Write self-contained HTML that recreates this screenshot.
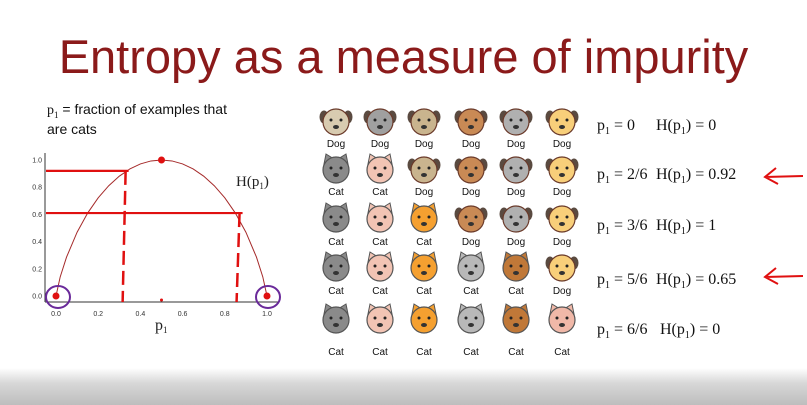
<!DOCTYPE html>
<html><head><meta charset="utf-8">
<style>
body{margin:0;width:807px;height:405px;overflow:hidden;background:#fff;font-family:"Liberation Sans",sans-serif;position:relative}
.t{position:absolute;white-space:nowrap}
</style></head><body>
<div class="t" style="left:0;width:807px;text-align:center;top:29px;font-size:47px;color:#8b1a1a">Entropy as a measure of impurity</div>
<div class="t" style="left:47px;top:100px;font-size:14px;line-height:18px;color:#111"><span style="font-family:'Liberation Serif',serif">p<sub style="font-size:9px;line-height:0">1</sub></span> = fraction of examples that<br>are cats</div>
<svg id="chart" width="807" height="405" style="position:absolute;left:0;top:0"></svg>
<div style="position:absolute;left:0;top:368px;width:807px;height:37px;background:linear-gradient(#fff,#d8d8d8 40%,#bdbdbd)"></div>
<script>
const pVals=[0,0.02,0.05,0.1,0.15,0.2,0.25,0.3,0.35,0.4,0.45,0.5,0.55,0.6,0.65,0.7,0.75,0.8,0.85,0.9,0.95,0.98,1];
const hVals=[0,0.141,0.286,0.469,0.610,0.722,0.811,0.881,0.934,0.971,0.993,1,0.993,0.971,0.934,0.881,0.811,0.722,0.610,0.469,0.286,0.141,0];
const xTicks=["0.0","0.2","0.4","0.6","0.8","1.0"];
const yTicks=["0.0","0.2","0.4","0.6","0.8","1.0"];
const xs=p=>56+p*211, ys=h=>296-h*136;
const svg=document.getElementById('chart'),NS="http://www.w3.org/2000/svg";
function mk(t,a,txt){const e=document.createElementNS(NS,t);for(const k in a)e.setAttribute(k,a[k]);if(txt!==undefined)e.textContent=txt;svg.appendChild(e);return e;}
let e;
e=mk('line',{x1:45,y1:153,x2:45,y2:302,stroke:'#333','stroke-width':1});

e=mk('line',{x1:45,y1:302,x2:279,y2:302,stroke:'#333','stroke-width':1});

xTicks.forEach((t,i)=>{e=mk('text',{x:xs(+t),y:316,'font-size':7,'text-anchor':'middle',fill:'#333'},t);
});
yTicks.forEach((t,i)=>{e=mk('text',{x:42,y:ys(+t)+2.5,'font-size':7,'text-anchor':'end',fill:'#333'},t);
});
e=mk('path',{d:pVals.map((p,i)=>(i?'L':'M')+xs(p)+','+ys(hVals[i])).join(''),fill:'none',stroke:'#a52a2a','stroke-width':1});

e=mk('text',{x:236,y:186,'font-size':15,'font-family':'Liberation Serif,serif',fill:'#222'});
e.innerHTML='H(p<tspan font-size="9" dy="3">1</tspan><tspan dy="-3">)</tspan>';

e=mk('text',{x:155,y:330,'font-size':16,'font-family':'Liberation Serif,serif',fill:'#222'});
e.innerHTML='p<tspan font-size="9" dy="3">1</tspan>';

const annP=[0.33,0.87],annH=[0.92,0.61];
annP.forEach((p,i)=>{
 e=mk('line',{x1:46,y1:ys(annH[i]),x2:xs(p)+3,y2:ys(annH[i]),stroke:'#e01010','stroke-width':2.2});
 
 e=mk('line',{x1:xs(p),y1:ys(annH[i]),x2:xs(p)-3,y2:302,stroke:'#e01010','stroke-width':2.5,'stroke-dasharray':'14,6'});
 
});
[[0,0],[0.5,1],[1,0]].forEach(d=>{e=mk('circle',{cx:xs(d[0]),cy:ys(d[1]),r:3.5,fill:'#e01010'});
});
mk('circle',{cx:xs(0.5),cy:300,r:1.5,fill:'#e01010'});
[[0,58],[1,268]].forEach(d=>{e=mk('ellipse',{cx:d[1],cy:297,rx:12,ry:11,fill:'none',stroke:'#6a2a9a','stroke-width':2});
});
const eqs=[["0","0"],["2/6","0.92"],["3/6","1"],["5/6","0.65"],["6/6","0"]];
const eqY=[130,179,230,284,334];
eqs.forEach((q,i)=>{
 e=mk('text',{x:597,y:eqY[i],'font-size':16,'font-family':'Liberation Serif,serif',fill:'#111'});
 e.innerHTML='p<tspan font-size="10" dy="4">1</tspan><tspan dy="-4"> = '+q[0]+'</tspan>';
 
 e=mk('text',{x:i==4?660:656,y:eqY[i],'font-size':16,'font-family':'Liberation Serif,serif',fill:'#111'});
 e.innerHTML='H(p<tspan font-size="10" dy="4">1</tspan><tspan dy="-4">) = '+q[1]+'</tspan>';
 });
[176,276].forEach(y=>{e=mk('path',{d:`M803,${y} L765,${y+1} M776,${y-8} L765,${y+1} L778,${y+8}`,fill:'none',stroke:'#e01010','stroke-width':2});
});
const nCats=[0,2,3,5,6];
const catCols=['#8a8a8a','#f2c4b4','#f5a030','#b8b8b8','#c07838','#f0b8a8'];
const dogCols=['#d8cbb0','#a0a0a0','#c9b48e','#c98a55','#b0b0b0','#f8cf7a'];
const colX=[336,380,424,471,516,562], rowY=[122,170,219,268,320], lblY=[147,195,245,294,355];
nCats.forEach((n,r)=>{for(let c=0;c<6;c++){const cat=c<n;const cx=colX[c],cy=rowY[r];
 if(cat){mk('path',{d:`M${cx-12},${cy-6}l2,-10l8,5z M${cx+12},${cy-6}l-2,-10l-8,5z`,fill:catCols[c],stroke:'#555'});}
 else{mk('ellipse',{cx:cx-12,cy:cy-5,rx:4.5,ry:6.5,fill:'#5a4a40'});mk('ellipse',{cx:cx+12,cy:cy-5,rx:4.5,ry:6.5,fill:'#5a4a40'});}
 e=mk('circle',{cx:cx,cy:cy,r:13,fill:cat?catCols[c]:dogCols[c],stroke:cat?'#555':'#6a3a2a','stroke-width':1.2});
 
 mk('circle',{cx:cx-5,cy:cy-2,r:1.5,fill:'#222'});mk('circle',{cx:cx+5,cy:cy-2,r:1.5,fill:'#222'});
 mk('ellipse',{cx:cx,cy:cy+5,rx:3,ry:2,fill:'#333'});
 e=mk('text',{x:cx,y:lblY[r],'font-size':10,'text-anchor':'middle',fill:'#111'},cat?'Cat':'Dog');
 
}});
</script>
</body></html>
